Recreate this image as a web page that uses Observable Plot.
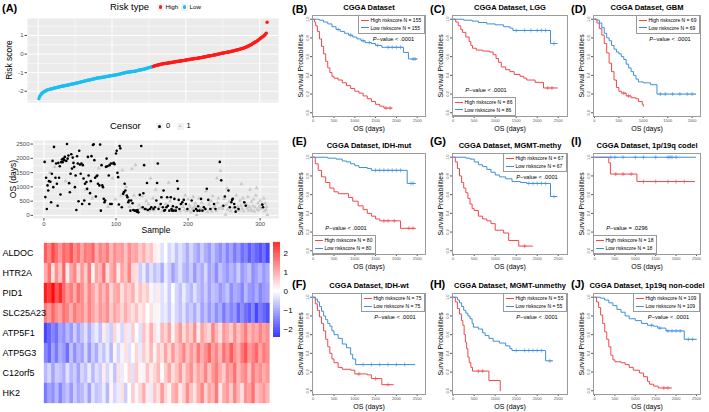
<!DOCTYPE html>
<html>
<head>
<meta charset="utf-8">
<script src="https://cdn.jsdelivr.net/npm/d3@7"></script>
<script src="https://cdn.jsdelivr.net/npm/@observablehq/plot@0.6"></script>
<style>
html,body{margin:0;padding:0;background:#fff;}
#fig{position:relative;width:709px;height:412px;overflow:hidden;background:#fff;font-family:"Liberation Sans",Arial,Helvetica,sans-serif;}
#fig svg{position:absolute;overflow:visible;}
.t{position:absolute;white-space:nowrap;line-height:1;}
.lg{position:absolute;background:#fff;border:1px solid #9a9a9a;padding:1px 2.5px 1px 1.5px;font-size:5px;line-height:7.6px;white-space:nowrap;font-family:"Liberation Sans",Arial,sans-serif;}
.lg .k{display:inline-block;width:8px;height:0;border-top:1px solid;vertical-align:middle;margin-right:2px;position:relative;top:-0.5px;}
</style>
</head>
<body>
<div id="fig"></div>
<script>
// ---------------- DATA ----------------
const lowRiskN = 155;
const highRiskN = 155;
const riskScore = [
-2.40,-2.30,-2.22,-2.16,-2.11,-2.08,-2.05,-2.02,-2.00,-1.98,
-1.96,-1.94,-1.92,-1.91,-1.90,-1.89,-1.88,-1.87,-1.86,-1.85,
-1.84,-1.83,-1.82,-1.81,-1.80,-1.79,-1.78,-1.77,-1.76,-1.75,
-1.74,-1.73,-1.72,-1.72,-1.71,-1.70,-1.69,-1.68,-1.68,-1.67,
-1.66,-1.65,-1.64,-1.63,-1.62,-1.61,-1.60,-1.60,-1.59,-1.58,
-1.57,-1.56,-1.55,-1.54,-1.53,-1.52,-1.51,-1.50,-1.49,-1.48,
-1.47,-1.46,-1.45,-1.44,-1.43,-1.42,-1.41,-1.40,-1.40,-1.39,
-1.38,-1.37,-1.36,-1.35,-1.34,-1.33,-1.32,-1.31,-1.30,-1.29,
-1.28,-1.28,-1.27,-1.27,-1.26,-1.26,-1.25,-1.24,-1.24,-1.23,
-1.22,-1.21,-1.21,-1.20,-1.19,-1.18,-1.18,-1.17,-1.16,-1.15,
-1.15,-1.14,-1.13,-1.13,-1.12,-1.11,-1.10,-1.10,-1.09,-1.08,
-1.07,-1.06,-1.05,-1.04,-1.03,-1.02,-1.01,-1.00,-0.99,-0.98,
-0.97,-0.97,-0.96,-0.96,-0.95,-0.95,-0.94,-0.94,-0.93,-0.93,
-0.92,-0.91,-0.90,-0.89,-0.88,-0.87,-0.86,-0.85,-0.84,-0.84,
-0.83,-0.82,-0.81,-0.80,-0.79,-0.78,-0.77,-0.75,-0.74,-0.73,
-0.72,-0.71,-0.70,-0.69,-0.68,-0.66,-0.65,-0.63,-0.62,-0.61,
-0.60,-0.59,-0.58,-0.57,-0.56,-0.55,-0.54,-0.53,-0.52,-0.51,
-0.51,-0.50,-0.50,-0.49,-0.49,-0.48,-0.47,-0.47,-0.46,-0.45,
-0.45,-0.44,-0.43,-0.42,-0.42,-0.41,-0.40,-0.40,-0.39,-0.38,
-0.38,-0.37,-0.37,-0.36,-0.36,-0.35,-0.35,-0.34,-0.33,-0.32,
-0.32,-0.31,-0.30,-0.30,-0.29,-0.28,-0.27,-0.27,-0.26,-0.25,
-0.25,-0.24,-0.24,-0.23,-0.23,-0.22,-0.21,-0.21,-0.20,-0.19,
-0.19,-0.18,-0.17,-0.16,-0.15,-0.14,-0.14,-0.13,-0.12,-0.11,
-0.10,-0.10,-0.09,-0.08,-0.08,-0.07,-0.06,-0.05,-0.05,-0.04,
-0.03,-0.02,-0.01,0.00,0.01,0.02,0.03,0.04,0.05,0.06,
0.06,0.07,0.08,0.08,0.09,0.10,0.11,0.11,0.12,0.13,
0.14,0.15,0.16,0.17,0.18,0.19,0.20,0.21,0.22,0.23,
0.24,0.25,0.26,0.27,0.28,0.30,0.31,0.32,0.34,0.35,
0.37,0.38,0.40,0.42,0.44,0.46,0.48,0.50,0.52,0.55,
0.58,0.60,0.62,0.65,0.67,0.70,0.72,0.75,0.78,0.82,
0.85,0.88,0.90,0.93,0.96,1.00,1.04,1.08,1.13,1.71];

const osDays = [
1875,640,1320,225,1050,870,1200,1500,1180,460,
1460,1910,990,2400,1700,1320,1820,1110,340,1840,
1320,1720,730,1865,1960,1865,1990,1935,2050,1200,
1910,2500,1990,2100,1130,810,1460,2145,1640,2025,
1840,1700,990,1400,190,2070,1820,495,2265,1780,
1460,1820,400,1760,1290,520,1110,900,1170,930,
2050,1400,400,780,1200,2075,600,2465,2490,1935,
1320,660,1370,1400,1110,1650,1050,2480,165,1760,
1050,990,580,460,520,1700,1990,1720,300,1400,
1760,400,1820,400,1300,1820,1840,1795,560,2170,
2265,1490,1340,380,2430,2350,700,283,1580,755,
815,1110,873,1000,696,637,460,520,300,165,
520,1630,425,190,700,165,1760,165,130,190,
106,350,720,250,2430,680,283,778,1760,224,
224,500,1133,190,400,150,224,1300,283,200,
600,224,180,283,900,520,1133,1817,224,300,
300,400,637,150,283,873,165,190,400,283,
637,340,1150,165,500,637,224,165,320,165,
578,250,165,283,1203,932,543,224,150,400,
400,460,300,543,200,700,400,150,224,560,
180,350,280,110,520,240,650,160,300,420,
224,15,165,320,600,165,250,578,440,165,
300,283,200,224,850,932,120,543,380,210,
224,500,140,680,270,400,330,224,160,1300,
450,600,250,1875,1560,1227,300,230,340,580,
660,30,380,950,200,873,480,283,150,460,
543,580,260,400,283,131,700,200,310,224,
170,520,340,1100,240,600,150,460,400,340,
380,250,650,170,300,900,210,480,160,330,
560,140,280,700,955,200,430,180,310,520,
240,380,378,283,600,150,420,200,300,20];
const censor = [
0,0,0,0,0,0,0,1,0,0,
0,0,0,0,1,0,0,0,0,0,
0,0,0,0,0,0,0,0,0,1,
0,0,0,0,0,0,0,0,0,0,
0,0,0,0,0,0,0,0,0,0,
0,0,0,0,0,0,0,1,0,0,
0,0,0,0,0,0,1,0,0,0,
0,0,0,0,0,1,0,0,0,0,
0,0,0,0,0,0,0,0,1,0,
0,0,0,0,1,0,0,0,1,0,
0,0,0,0,0,0,1,0,1,0,
0,0,0,1,0,0,0,0,1,0,
0,1,0,0,1,0,1,0,0,0,
0,1,0,1,0,1,0,0,0,0,
0,1,0,0,1,1,0,1,0,1,
1,0,1,0,1,0,0,0,0,1,
1,0,0,1,0,0,0,0,1,0,
0,0,1,0,1,0,0,0,0,0,
0,1,0,0,0,0,0,0,1,0,
1,0,1,0,1,1,0,1,0,1,
1,1,1,1,0,1,1,0,1,1,
0,1,0,0,1,0,1,0,1,0,
1,0,1,0,1,0,1,0,1,1,
0,1,1,1,1,0,1,0,1,1,
1,1,1,0,1,0,1,1,0,1,
0,1,1,1,1,0,1,0,1,0,
0,0,1,0,0,0,1,1,1,0,
1,1,1,1,1,1,1,0,1,0,
1,1,1,1,1,1,1,1,1,1,
1,1,1,1,1,1,1,1,1,1,
1,1,0,0,1,1,1,1,1,1];

const genes = ["ALDOC","HTR2A","PID1","SLC25A23","ATP5F1","ATP5G3","C12orf5","HK2"];
const exprALDOC = [1.6,1.2,1.8,1.4,1.0,1.5,1.3,1.7,1.1,1.4, 0.9,1.3,1.2,1.5,0.8,1.2,1.0,1.3,0.7,1.1, 0.9,1.0,0.6,1.1,0.8,0.9,0.5,0.8,0.4,0.6, 0.2,0.1,-0.3,0.0,-0.4,-0.2,-0.6,-0.3,-0.5,-0.8, -0.4,-0.7,-0.9,-0.5,-0.8,-1.0,-0.6,-0.9,-1.1,-0.8, -1.2,-0.9,-1.3,-1.0,-1.4,-1.2,-1.6,-1.3,-1.5,-1.7, -1.4,-1.8];
const exprHTR2A = [0.8,1.4,0.3,1.1,0.6,1.5,0.2,0.9,1.2,0.4, 1.0,0.5,1.3,0.1,0.9,0.7,1.4,0.3,0.8,1.1, 0.2,0.9,0.6,1.2,0.4,0.3,-0.5,-0.2,-0.7,-0.3, -0.6,-0.4,-0.8,-0.2,-0.5,-0.9,-0.6,-0.3,-0.7,-0.8, -0.5,-1.0,-0.6,-0.8,-0.4,-0.9,-0.7,-1.1,-0.6,-0.8, -1.0,-0.7,-0.9,-0.5,-1.0,-0.8,-0.6,-1.1,-0.9,-0.7, -1.0,-0.8];
const exprPID1 = [2.2,1.9,2.4,1.7,2.1,1.5,1.0,1.3,0.8,1.4, 1.1,0.6,1.2,0.9,0.5,1.0,0.7,1.1,0.4,0.8, 0.9,0.3,0.7,0.5,0.8,0.2,0.6,0.3,0.5,0.1, -0.2,0.2,-0.3,-0.1,-0.5,0.0,-0.4,-0.6,-0.2,-0.5, -0.7,-0.3,-0.6,-0.8,-0.5,-0.9,-0.6,-0.7,-1.0,-0.8, -0.6,-1.1,-0.8,-0.9,-1.2,-0.7,-1.0,-1.1,-0.8,-1.2, -1.0,-0.9];
const exprSLC25A23 = [1.3,1.0,1.5,1.1,0.9,1.4,1.2,0.8,1.3,1.0, 1.1,0.7,1.2,0.9,0.6,1.0,0.8,1.1,0.5,0.9, 0.7,0.4,0.8,0.5,0.3,0.6,0.2,0.4,0.0,0.3, -0.1,0.1,-0.3,-0.2,-0.5,-0.1,-0.4,-0.6,-0.3,-0.7, -0.5,-0.8,-0.4,-0.9,-0.6,-1.0,-0.7,-1.1,-0.8,-1.3, -0.9,-1.2,-1.0,-1.5,-1.1,-1.4,-1.6,-1.2,-1.8,-1.3, -1.5,-1.7];
const exprATP5F1 = [-1.8,-1.5,-1.2,-1.4,-0.9,-1.1,-0.7,-1.0,-0.5,-0.9, -0.6,-0.3,-0.8,-0.4,-0.2,-0.6,0.2,-0.3,-0.5,0.4, -0.1,-0.4,0.3,-0.2,0.5,0.0,-0.3,0.6,0.2,0.8, 0.3,-0.1,0.7,0.4,0.9,0.1,0.6,1.0,0.3,0.8, 0.5,1.1,0.2,0.9,0.6,0.4,1.2,0.7,0.3,1.0, 0.8,0.5,1.1,0.6,0.9,1.3,0.7,1.0,0.8,1.2, 0.9,1.1];
const exprATP5G3 = [-1.2,-1.5,-0.9,-1.3,-0.8,-1.0,-1.4,-0.6,-1.1,-0.7, -0.9,-0.4,-1.0,-0.5,-0.8,-0.3,-0.6,-0.2,-0.7,0.1, -0.4,-0.1,0.3,-0.3,0.0,0.4,-0.2,0.5,0.2,0.7, 0.1,0.6,0.3,0.9,0.4,1.0,0.5,0.8,1.2,0.6, 1.0,0.7,1.3,0.8,1.1,1.5,0.9,1.2,0.7,1.4, 1.0,1.6,1.1,0.8,1.3,1.7,1.0,1.2,1.5,0.9, 1.3,1.1];
const exprC12orf5 = [-0.7,-0.4,-0.9,-0.5,-0.6,-0.8,-0.3,-0.7,-0.5,-0.9, -0.4,-0.6,-0.2,-0.7,-0.3,-0.5,0.2,-0.4,-0.1,-0.6, 0.3,-0.2,0.0,0.4,-0.3,0.5,0.1,-0.1,0.6,0.2, 0.4,0.7,0.0,0.5,0.9,0.3,0.6,1.0,0.4,0.8, 1.1,0.5,0.9,0.7,1.2,0.6,1.0,1.3,0.8,0.5, 1.1,0.9,1.4,0.7,1.0,1.2,0.6,1.3,0.9,1.1, 0.8,1.0];
const exprHK2 = [-1.3,-0.9,-1.1,-0.7,-1.2,-0.8,-0.6,-1.0,-0.5,-0.8, -0.7,-0.4,-0.9,-0.3,-0.6,-0.5,-0.2,-0.7,0.1,-0.4, -0.2,0.3,-0.5,0.0,0.5,-0.1,0.4,0.8,0.2,-0.2, 0.6,0.3,1.0,0.4,0.1,0.7,0.9,0.2,0.5,1.1, 0.6,0.3,0.8,1.2,0.4,0.9,0.7,1.3,0.2,0.8, 1.0,0.5,1.2,0.7,0.3,1.1,0.9,1.4,0.6,0.8, 1.0,0.7];
const heatRows = [exprALDOC, exprHTR2A, exprPID1, exprSLC25A23, exprATP5F1, exprATP5G3, exprC12orf5, exprHK2];
const colorbarTicks = [-2,-1,0,1,2];

const kmB_high = [[0,1],[30,.97],[60,.93],[100,.87],[150,.79],[200,.71],[250,.63],[300,.55],[350,.48],[400,.43],[450,.39],[500,.37],[600,.35],[700,.32],[800,.29],[900,.26],[1000,.23],[1100,.21],[1200,.18],[1300,.15],[1400,.12],[1500,.09],[1600,.07],[1700,.05],[1900,.05]];
const kmB_low = [[0,1],[150,.99],[250,.97],[350,.95],[450,.92],[550,.89],[650,.87],[750,.85],[850,.83],[950,.81],[1050,.79],[1150,.77],[1250,.75],[1400,.74],[1500,.72],[1650,.70],[2170,.645],[2290,.575],[2500,.575]];
const kmB_highCens = [1750,1850];
const kmB_lowCens = [600,900,1200,1350,1550,1800,1900,2000,2100,2400,2450];

const kmC_high = [[0,1],[60,.97],[120,.93],[180,.89],[220,.86],[300,.81],[380,.76],[420,.72],[460,.69],[550,.67],[700,.66],[860,.65],[950,.62],[1020,.58],[1080,.54],[1145,.49],[1250,.46],[1350,.44],[1450,.41],[1590,.39],[1680,.37],[1750,.35],[1950,.325],[2150,.265],[2480,.265]];
const kmC_low = [[0,1],[250,.99],[450,.98],[600,.965],[800,.95],[1000,.94],[1200,.92],[1350,.905],[1420,.88],[2317,.74],[2480,.74]];
const kmC_highCens = [2250,2350];
const kmC_lowCens = [1500,1700,1850,2000,2100,2200,2400];

const kmD_high = [[0,1],[50,.96],[100,.9],[150,.83],[200,.74],[250,.64],[300,.53],[350,.44],[400,.35],[450,.27],[500,.23],[550,.21],[650,.18],[750,.16],[850,.15],[900,.12],[980,.09],[1000,.07]];
const kmD_low = [[0,1],[50,.99],[100,.96],[150,.91],[200,.85],[250,.8],[300,.77],[350,.72],[400,.68],[450,.65],[500,.63],[550,.6],[600,.57],[650,.52],[700,.48],[750,.44],[800,.4],[850,.36],[900,.33],[1000,.32],[1150,.3],[1280,.2],[2080,.2]];
const kmD_highCens = [600,700];
const kmD_lowCens = [1350,1450,1600,1750,1900,2000];

const kmE_high = [[0,1],[50,.93],[120,.86],[200,.79],[300,.73],[400,.67],[500,.63],[600,.61],[850,.57],[950,.53],[1080,.48],[1200,.44],[1300,.4],[1400,.37],[1500,.34],[1600,.32],[2100,.24],[2460,.24]];
const kmE_low = [[0,1],[350,.99],[550,.98],[700,.96],[800,.95],[900,.93],[1000,.91],[1100,.89],[1300,.88],[1400,.86],[2260,.72],[2460,.72]];
const kmE_highCens = [1700,1800,1950,2300,2400];
const kmE_lowCens = [1500,1600,1700,1800,1900,2000,2100,2350,2400];

const kmF_high = [[0,1],[50,.93],[100,.86],[150,.79],[200,.72],[250,.64],[300,.55],[350,.47],[400,.4],[450,.34],[500,.3],[600,.25],[700,.23],[900,.22],[1000,.18],[1300,.17],[1400,.13],[1650,.065],[1930,.065]];
const kmF_low = [[0,1],[50,.98],[100,.95],[150,.9],[200,.85],[250,.8],[300,.76],[350,.72],[400,.69],[450,.64],[500,.6],[600,.56],[700,.5],[800,.46],[900,.39],[950,.34],[1020,.28],[2450,.28]];
const kmF_highCens = [1100,1500,1800];
const kmF_lowCens = [1200,1400,1600,1800,2000,2200];

const kmG_high = [[0,1],[50,.95],[100,.88],[150,.8],[200,.73],[250,.67],[300,.62],[350,.56],[400,.5],[450,.45],[500,.43],[600,.37],[700,.34],[800,.32],[900,.29],[1000,.22],[1200,.19],[1320,.11],[1560,.05],[1890,.05]];
const kmG_low = [[0,1],[300,.99],[400,.98],[500,.95],[600,.92],[700,.9],[800,.87],[900,.84],[1000,.81],[1100,.79],[1250,.77],[1400,.74],[1600,.73],[1750,.72],[2317,.58],[2476,.58]];
const kmG_highCens = [1700];
const kmG_lowCens = [1800,1900,2000,2100,2200,2400];

const kmH_high = [[0,1],[50,.95],[100,.88],[150,.82],[200,.75],[230,.7],[260,.6],[290,.52],[320,.45],[350,.36],[380,.3],[420,.25],[460,.21],[850,.11],[1120,0]];
const kmH_low = [[0,1],[100,.97],[150,.94],[200,.9],[250,.86],[300,.83],[350,.8],[400,.77],[450,.72],[480,.68],[600,.66],[700,.62],[760,.59],[850,.56],[950,.53],[1100,.51],[1250,.48],[1350,.45],[1400,.43],[2200,.32],[2370,.32]];
const kmH_highCens = [600,700];
const kmH_lowCens = [1500,1700,1800,1900,2000,2100,2300];

const kmI_high = [[0,1],[350,.94],[390,.82],[1040,.74],[2460,.74]];
const kmI_low = [[0,1],[2480,1]];
const kmI_highCens = [520,700,900,1200,1500,1800,2000,2200];
const kmI_lowCens = [400,500,700,1000,1200,1500,1800,1850,1900,2000];

const kmJ_high = [[0,1],[50,.95],[100,.89],[150,.81],[200,.72],[250,.63],[300,.55],[350,.47],[400,.38],[450,.33],[500,.31],[650,.3],[750,.28],[850,.25],[950,.22],[1100,.19],[1200,.15],[1300,.1],[1350,.07],[1450,.05],[1560,.03],[1890,.03]];
const kmJ_low = [[0,1],[150,.99],[250,.97],[350,.94],[450,.91],[550,.87],[650,.84],[750,.8],[850,.77],[1000,.75],[1150,.72],[1300,.7],[1450,.69],[1550,.67],[1750,.64],[2200,.55],[2500,.55]];
const kmJ_highCens = [1700,1800];
const kmJ_lowCens = [1400,1600,1800,1900,2000,2100,2300,2400];

const kmLetters = ["B","C","D","E","F","G","H","I","J"];
const kmTitles = ["CGGA Dataset","CGGA Dataset, LGG","CGGA Dataset, GBM","CGGA Dataset, IDH-mut","CGGA Dataset, IDH-wt","CGGA Dataset, MGMT-methy","CGGA Dataset, MGMT-unmethy","CGGA Dataset, 1p/19q codel","CGGA Dataset, 1p19q non-codel"];
const kmN = [155,86,69,80,75,67,55,18,109];
const kmP = ["< .0001","< .0001","< .0001","< .0001","< .0001","< .0001","< .0001","= .0296","< .0001"];

// ---------------- LAYOUT ----------------
const FONT = '"Liberation Sans", Arial, Helvetica, sans-serif';
const RISK_RED = "#FF1A1A", RISK_BLUE = "#1FBDF0";
const KM_RED = "#F2474B", KM_BLUE = "#3F8FDB";
const fig = document.getElementById("fig");

function addSvg(svg, left, top) {
  svg.style.position = "absolute"; svg.style.left = left + "px"; svg.style.top = top + "px";
  fig.appendChild(svg); return svg;
}
function addText(html, x, y, o = {}) {
  const d = document.createElement("div");
  d.className = "t"; d.innerHTML = html;
  d.style.fontSize = (o.size || 8) + "px";
  if (o.weight) d.style.fontWeight = o.weight;
  d.style.color = o.color || "#000";
  d.style.left = x + "px"; d.style.top = y + "px";
  const ax = o.anchor === "middle" ? "-50%" : o.anchor === "end" ? "-100%" : "0";
  d.style.transform = `translate(${ax},-50%)` + (o.rotate ? ` rotate(${o.rotate}deg)` : "");
  fig.appendChild(d); return d;
}
function addBox(x, y, w, h, css) {
  const d = document.createElement("div");
  d.style.cssText = `position:absolute;left:${x}px;top:${y}px;width:${w}px;height:${h}px;` + css;
  fig.appendChild(d); return d;
}
const hy = d => d < 0 ? "-" + Math.abs(d) : String(d);

// ----- Panel A: risk score -----
const nS = riskScore.length;
const xPad = 0.05 * (nS - 1);
const xDomA = [1 - xPad, nS + xPad];
const rExt = d3.extent(riskScore), rPad = 0.05 * (rExt[1] - rExt[0]);
const riskPts = riskScore.map((v, i) => ({i: i + 1, v, type: i < lowRiskN ? "Low" : "High"}));
const sampleMajor = [0, 100, 200, 300], sampleMinor = [50, 150, 250];

addSvg(Plot.plot({
  width: 280, height: 92, marginLeft: 27, marginRight: 2, marginTop: 3, marginBottom: 5,
  style: {fontFamily: FONT, background: "transparent", overflow: "visible"},
  x: {domain: xDomA, axis: null},
  y: {domain: [rExt[0] - rPad, rExt[1] + rPad], axis: null},
  color: {domain: ["High", "Low"], range: [RISK_RED, RISK_BLUE]},
  marks: [
    Plot.frame({fill: "#EBEBEB", stroke: "none"}),
    Plot.ruleY([-2.5, -1.5, -0.5, 0.5, 1.5], {stroke: "#fff", strokeWidth: 0.5}),
    Plot.ruleY([-2, -1, 0, 1], {stroke: "#fff", strokeWidth: 1}),
    Plot.ruleX(sampleMinor, {stroke: "#fff", strokeWidth: 0.5}),
    Plot.ruleX(sampleMajor, {stroke: "#fff", strokeWidth: 1}),
    Plot.axisY([-2, -1, 0, 1], {tickSize: 2.5, tickPadding: 1.5, fontSize: 6, tickFormat: hy, color: "#4D4D4D", label: null}),
    Plot.dot(riskPts, {x: "i", y: "v", fill: "type", r: 1.7, stroke: "none"})
  ]
}), 0, 15);

addText("(A)", 2, 8.3, {size: 11, weight: "bold"});
addText("Risk score", 9.3, 60, {size: 8.5, anchor: "middle", rotate: -90});
addText("Risk type", 110, 7, {size: 9.5});
addBox(157, 3.5, 7, 7, "background:#F2F2F2;");
addBox(158.8, 5.3, 3.4, 3.4, `background:${RISK_RED};border-radius:50%;`);
addText("High", 165.5, 7.2, {size: 6.2});
addBox(181, 3.5, 7, 7, "background:#F2F2F2;");
addBox(182.8, 5.3, 3.4, 3.4, `background:${RISK_BLUE};border-radius:50%;`);
addText("Low", 189.5, 7.2, {size: 6.2});

// ----- Panel A: OS scatter -----
const osPts = osDays.map((v, i) => ({i: i + 1, v, c: censor[i]}));
const osExt = d3.extent(osDays), osPad = 0.05 * (osExt[1] - osExt[0]);
const osTicks = [0, 500, 1000, 1500, 2000, 2500];
addSvg(Plot.plot({
  width: 280, height: 96, marginLeft: 33, marginRight: 2, marginTop: 3, marginBottom: 15,
  style: {fontFamily: FONT, background: "transparent", overflow: "visible"},
  x: {domain: xDomA, axis: null},
  y: {domain: [osExt[0] - osPad, osExt[1] + osPad], axis: null},
  marks: [
    Plot.frame({fill: "#EBEBEB", stroke: "none"}),
    Plot.ruleY([250, 750, 1250, 1750, 2250], {stroke: "#fff", strokeWidth: 0.5}),
    Plot.ruleY(osTicks, {stroke: "#fff", strokeWidth: 1}),
    Plot.ruleX(sampleMinor, {stroke: "#fff", strokeWidth: 0.5}),
    Plot.ruleX(sampleMajor, {stroke: "#fff", strokeWidth: 1}),
    Plot.axisY(osTicks, {tickSize: 2.5, tickPadding: 1.5, fontSize: 6, tickFormat: d => String(d), color: "#4D4D4D", label: null}),
    Plot.axisX(sampleMajor, {tickSize: 2.5, tickPadding: 1, fontSize: 6, tickFormat: d => String(d), color: "#4D4D4D", label: null}),
    Plot.dot(osPts.filter(d => d.c === 1), {x: "i", y: "v", symbol: "triangle", r: 1.5, fill: "#C9C9C9", stroke: "none"}),
    Plot.dot(osPts.filter(d => d.c === 0), {x: "i", y: "v", r: 1.3, fill: "#000", stroke: "none"})
  ]
}), 0, 137);
addText("OS (days)", 12.5, 179, {size: 8.5, anchor: "middle", rotate: -90});
addText("Sample", 156, 229.5, {size: 8.5, anchor: "middle"});
addText("Censor", 110, 126, {size: 9.5});
addBox(156, 122.5, 7, 7, "background:#F2F2F2;");
addBox(158, 124.5, 3, 3, "background:#000;border-radius:50%;");
addText("0", 166, 126.3, {size: 7.5});
addBox(176.5, 122.5, 7, 7, "background:#F2F2F2;");
addBox(178.3, 124.2, 3.6, 3.2, "background:#C9C9C9;clip-path:polygon(50% 0,100% 100%,0 100%);");
addText("1", 186.5, 126.3, {size: 7.5});

// ----- Panel A: heatmap -----
const nCols = heatRows[0].length;
const heatData = genes.flatMap((g, gi) => heatRows[gi].map((v, j) => ({g, j, j1: j + 1, v})));
const heatColor = {type: "linear", domain: [-2.5, 0, 2.5], range: ["#0000FF", "#FFFFFF", "#FF0000"], interpolate: "rgb", clamp: true};
addSvg(Plot.plot({
  width: 269.5, height: 161.3, marginLeft: 44, marginRight: 0, marginTop: 0, marginBottom: 0,
  style: {fontFamily: FONT, background: "transparent", overflow: "visible"},
  x: {domain: [0, nCols], axis: null},
  y: {domain: genes, axis: null, padding: 0},
  color: heatColor,
  marks: [
    Plot.barX(heatData, {x1: "j", x2: "j1", y: "g", fill: "v", stroke: "v", strokeWidth: 0.3, inset: 0}),
    Plot.text(genes, {y: d => d, text: d => d, frameAnchor: "left", dx: -42, textAnchor: "start", fontSize: 9, fill: "#000"})
  ]
}), 0, 241.7);

const cbStart = -2.44, cbEnd = 2.56, cbStep = 0.02;
const cbSteps = d3.range(cbStart, cbEnd - 1e-9, cbStep);
addSvg(Plot.plot({
  width: 35, height: 105, marginLeft: 3, marginRight: 25, marginTop: 5, marginBottom: 5,
  style: {fontFamily: FONT, background: "transparent", overflow: "visible"},
  x: {domain: [0, 1], axis: null},
  y: {domain: [cbStart, cbEnd], axis: null},
  color: heatColor,
  marks: [
    Plot.rect(cbSteps, {x1: () => 0, x2: () => 1, y1: d => d, y2: d => d + cbStep + 0.005, fill: d => d + cbStep / 2}),
    Plot.text(colorbarTicks, {x: () => 1, y: d => d, dx: 3, textAnchor: "start", text: d => d < 0 ? "\u2212" + Math.abs(d) : String(d), fontSize: 8, fill: "#000"})
  ]
}), 270, 236.7);

// ----- KM panels -----
const colLeft = [312, 452, 593], colWidth = [113, 115, 107];
const rowTop = [15, 153.3, 293.3], frameH = 101;
const kmPanels = [
  {col: 0, row: 0, high: kmB_high, low: kmB_low, hc: kmB_highCens, lc: kmB_lowCens, xdom: [-17, 2700], leg: "tr"},
  {col: 1, row: 0, high: kmC_high, low: kmC_low, hc: kmC_highCens, lc: kmC_lowCens, xdom: [-17, 2721], leg: "bl"},
  {col: 2, row: 0, high: kmD_high, low: kmD_low, hc: kmD_highCens, lc: kmD_lowCens, xdom: [-20, 2172], leg: "tr"},
  {col: 0, row: 1, high: kmE_high, low: kmE_low, hc: kmE_highCens, lc: kmE_lowCens, xdom: [-17, 2700], leg: "bl"},
  {col: 0, row: 2, high: kmF_high, low: kmF_low, hc: kmF_highCens, lc: kmF_lowCens, xdom: [-17, 2700], leg: "tr"},
  {col: 1, row: 1, high: kmG_high, low: kmG_low, hc: kmG_highCens, lc: kmG_lowCens, xdom: [-17, 2721], leg: "tr"},
  {col: 1, row: 2, high: kmH_high, low: kmH_low, hc: kmH_highCens, lc: kmH_lowCens, xdom: [-17, 2721], leg: "tr"},
  {col: 2, row: 1, high: kmI_high, low: kmI_low, hc: kmI_highCens, lc: kmI_lowCens, xdom: [-25, 2598], leg: "bl"},
  {col: 2, row: 2, high: kmJ_high, low: kmJ_low, hc: kmJ_highCens, lc: kmJ_lowCens, xdom: [-25, 2598], leg: "tr"}
];
const letterY = [8.5, 140.5, 283.5], letterX = [292, 430, 571];

function survAt(curve, t) {
  let s = curve[0][1];
  for (const [tt, ss] of curve) { if (tt <= t) s = ss; else break; }
  return s;
}

kmPanels.forEach((p, i) => {
  const FL = colLeft[p.col], FW = colWidth[p.col], FT = rowTop[p.row], FH = frameH;
  const FR = FL + FW, FB = FT + FH;
  const ml = 28, mr = 4, mt = 15, mb = 20;
  const xt = [0, 500, 1000, 1500, 2000, 2500].filter(t => t <= p.xdom[1]);
  const yt = [0, 0.2, 0.4, 0.6, 0.8, 1.0];
  const pts = arr => arr.map(([t, s]) => ({t, s}));
  const cens = (curve, ts) => ts.map(t => ({t, s: survAt(curve, t)}));
  addSvg(Plot.plot({
    width: FW + ml + mr, height: FH + mt + mb, marginLeft: ml, marginRight: mr, marginTop: mt, marginBottom: mb,
    style: {fontFamily: FONT, background: "transparent", overflow: "visible"},
    x: {domain: p.xdom, axis: null},
    y: {domain: [-0.04, 1.04], axis: null},
    marks: [
      Plot.axisX(xt, {tickSize: 2, tickPadding: 1, fontSize: 4, tickFormat: d => String(d), label: null, color: "#555"}),
      Plot.axisY(yt, {tickSize: 2, tickFormat: () => "", label: null, color: "#555"}),
      Plot.text(yt, {y: d => d, text: d => d.toFixed(1), frameAnchor: "left", textAnchor: "middle", dx: -4.5, rotate: -90, fontSize: 4, fill: "#555"}),
      Plot.line(pts(p.high), {x: "t", y: "s", curve: "step-after", stroke: KM_RED, strokeWidth: 1}),
      Plot.line(pts(p.low), {x: "t", y: "s", curve: "step-after", stroke: KM_BLUE, strokeWidth: 1}),
      Plot.dot(cens(p.high, p.hc), {x: "t", y: "s", symbol: "plus", r: 1.4, stroke: KM_RED, strokeWidth: 0.6}),
      Plot.dot(cens(p.low, p.lc), {x: "t", y: "s", symbol: "plus", r: 1.4, stroke: KM_BLUE, strokeWidth: 0.6}),
      Plot.frame({stroke: "#9a9a9a"}),
      Plot.text([kmTitles[i]], {text: d => d, frameAnchor: "top", textAnchor: "middle", dy: -8.3, fontWeight: "bold", fontSize: 7.5, lineAnchor: "middle", fill: "#000"}),
      Plot.text(["OS (days)"], {text: d => d, frameAnchor: "bottom", textAnchor: "middle", dy: 12, fontSize: 7, lineAnchor: "middle", fill: "#000"}),
      Plot.text(["Survival Probabilities"], {text: d => d, frameAnchor: "left", textAnchor: "middle", dx: -12, rotate: -90, fontSize: 6.8, lineAnchor: "middle", fill: "#000"})
    ]
  }), FL - ml, FT - mt);

  const box = document.createElement("div");
  box.className = "lg";
  box.innerHTML = `<div><span class="k" style="border-top-color:${KM_RED}"></span>High riskscore N = ${kmN[i]}</div>` +
                  `<div><span class="k" style="border-top-color:${KM_BLUE}"></span>Low riskscore N = ${kmN[i]}</div>`;
  fig.appendChild(box);
  const w = box.offsetWidth, h = box.offsetHeight;
  const left = p.leg === "tr" ? FR - w : FL;
  const top = p.leg === "tr" ? FT : FB - h;
  box.style.left = left + "px"; box.style.top = top + "px";
  const py = p.leg === "tr" ? FT + 24.5 : FT + 75.5;
  addText(`<i>P</i>\u2212value ${kmP[i]}`, left + w / 2 + 2, py, {size: 5.7, anchor: "middle"});

  addText(`(${kmLetters[i]})`, letterX[p.col], letterY[p.row], {size: 11, weight: "bold"});
});
</script>
</body>
</html>
